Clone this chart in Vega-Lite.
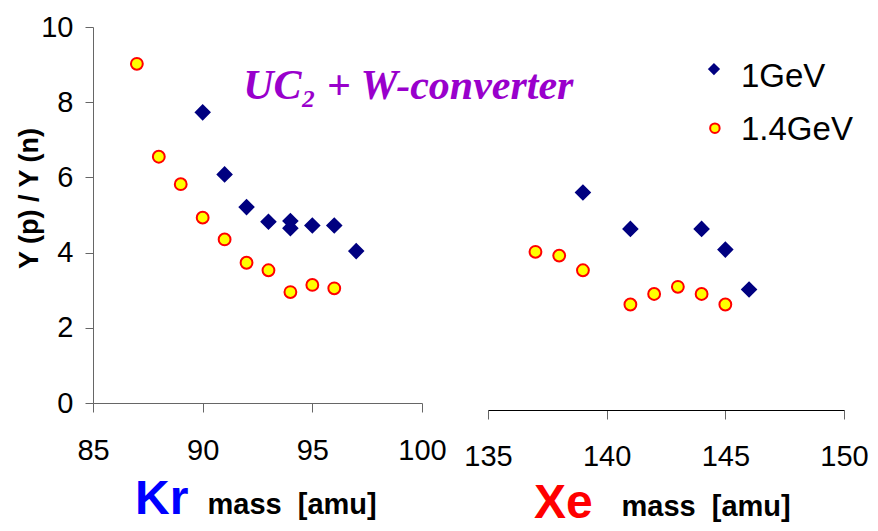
{
  "$schema": "https://vega.github.io/schema/vega-lite/v6.json",
  "autosize": {"type": "pad"},
  "padding": {"left": 15, "top": 13, "right": 5, "bottom": 5},
  "bounds": "flush",
  "spacing": 66,
  "background": "white",
  "config": {
    "view": {"stroke": null},
    "font": "Liberation Sans",
    "axis": {"grid": false, "labelFont": "Liberation Sans", "labelColor": "#000000", "labelFontSize": 29, "labelFlush": false, "labelOverlap": false, "titleFont": "Liberation Sans"}
  },
  "datasets": {
    "yields": [
      {"element": "Kr", "beam": "1.4GeV", "mass": 87, "ratio": 9.02},
      {"element": "Kr", "beam": "1.4GeV", "mass": 88, "ratio": 6.55},
      {"element": "Kr", "beam": "1.4GeV", "mass": 89, "ratio": 5.82},
      {"element": "Kr", "beam": "1.4GeV", "mass": 90, "ratio": 4.93},
      {"element": "Kr", "beam": "1.4GeV", "mass": 91, "ratio": 4.35},
      {"element": "Kr", "beam": "1.4GeV", "mass": 92, "ratio": 3.73},
      {"element": "Kr", "beam": "1.4GeV", "mass": 93, "ratio": 3.53},
      {"element": "Kr", "beam": "1.4GeV", "mass": 94, "ratio": 2.95},
      {"element": "Kr", "beam": "1.4GeV", "mass": 95, "ratio": 3.14},
      {"element": "Kr", "beam": "1.4GeV", "mass": 96, "ratio": 3.05},
      {"element": "Kr", "beam": "1GeV", "mass": 90, "ratio": 7.73},
      {"element": "Kr", "beam": "1GeV", "mass": 91, "ratio": 6.08},
      {"element": "Kr", "beam": "1GeV", "mass": 92, "ratio": 5.21},
      {"element": "Kr", "beam": "1GeV", "mass": 93, "ratio": 4.82},
      {"element": "Kr", "beam": "1GeV", "mass": 94, "ratio": 4.65},
      {"element": "Kr", "beam": "1GeV", "mass": 94, "ratio": 4.84},
      {"element": "Kr", "beam": "1GeV", "mass": 95, "ratio": 4.72},
      {"element": "Kr", "beam": "1GeV", "mass": 96, "ratio": 4.72},
      {"element": "Kr", "beam": "1GeV", "mass": 97, "ratio": 4.04},
      {"element": "Xe", "beam": "1.4GeV", "mass": 137, "ratio": 4.02},
      {"element": "Xe", "beam": "1.4GeV", "mass": 138, "ratio": 3.92},
      {"element": "Xe", "beam": "1.4GeV", "mass": 139, "ratio": 3.53},
      {"element": "Xe", "beam": "1.4GeV", "mass": 141, "ratio": 2.62},
      {"element": "Xe", "beam": "1.4GeV", "mass": 142, "ratio": 2.9},
      {"element": "Xe", "beam": "1.4GeV", "mass": 143, "ratio": 3.09},
      {"element": "Xe", "beam": "1.4GeV", "mass": 144, "ratio": 2.9},
      {"element": "Xe", "beam": "1.4GeV", "mass": 145, "ratio": 2.62},
      {"element": "Xe", "beam": "1GeV", "mass": 139, "ratio": 5.6},
      {"element": "Xe", "beam": "1GeV", "mass": 141, "ratio": 4.63},
      {"element": "Xe", "beam": "1GeV", "mass": 144, "ratio": 4.63},
      {"element": "Xe", "beam": "1GeV", "mass": 145, "ratio": 4.08},
      {"element": "Xe", "beam": "1GeV", "mass": 146, "ratio": 3.02}
    ]
  },
  "hconcat": [
    {
      "width": 329,
      "height": 376,
      "title": {"text": "Kr", "orient": "bottom", "anchor": "start", "frame": "group", "dx": 42, "offset": 0, "dy": -5, "baseline": "alphabetic", "color": "#0000FF", "font": "Liberation Sans", "fontSize": 48, "fontWeight": "bold"},
      "layer": [
        {
          "data": {"name": "yields"},
          "transform": [{"filter": "datum.element === 'Kr'"}],
          "mark": {"type": "point", "filled": true, "strokeWidth": 2, "opacity": 1},
          "encoding": {
            "x": {"field": "mass", "type": "quantitative",
              "scale": {"domain": [85, 100], "nice": false, "zero": false},
              "axis": {"values": [85, 90, 95, 100], "format": "d", "domainColor": "#666666", "tickColor": "#666666", "tickSize": 9, "labelPadding": 24,
                "title": "mass\u00a0\u00a0[amu]", "titleFontSize": 29, "titleFontWeight": "bold", "titleColor": "#000000", "titleX": 114, "titleY": 110, "titleAlign": "left", "titleBaseline": "alphabetic", "titleAnchor": null}},
            "y": {"field": "ratio", "type": "quantitative",
              "scale": {"domain": [0, 10], "nice": false},
              "axis": {"values": [0, 2, 4, 6, 8, 10], "format": "d", "domainColor": "#666666", "tickColor": "#666666", "tickSize": 8, "labelPadding": 12,
                "title": "Y (p) / Y (n)", "titleFontSize": 27, "titleFontWeight": "bold", "titleColor": "#000000", "titleAngle": -90, "titleX": -56, "titleY": 171, "titleAlign": "center", "titleBaseline": "alphabetic"}},
            "shape": {"field": "beam", "type": "nominal", "scale": {"domain": ["1GeV", "1.4GeV"], "range": ["diamond", "circle"]}, "legend": null},
            "color": {"field": "beam", "type": "nominal", "scale": {"domain": ["1GeV", "1.4GeV"], "range": ["#000080", "#FFFF00"]}, "legend": null},
            "stroke": {"field": "beam", "type": "nominal", "scale": {"domain": ["1GeV", "1.4GeV"], "range": ["#000080", "#FF0000"]}, "legend": null},
            "size": {"field": "beam", "type": "nominal", "scale": {"domain": ["1GeV", "1.4GeV"], "range": [190, 140]}, "legend": null}
          }
        },
        {
          "data": {"values": [{"label": "UC₂ + W-converter"}]},
          "mark": {"type": "text", "align": "left", "baseline": "alphabetic", "font": "Liberation Serif", "fontStyle": "italic", "fontWeight": "bold", "fontSize": 42, "color": "#9900CC", "clip": false},
          "encoding": {
            "x": {"datum": 91.85, "type": "quantitative"},
            "y": {"datum": 8.08, "type": "quantitative"},
            "text": {"field": "label", "type": "nominal"}
          }
        }
      ]
    },
    {
      "width": 356,
      "height": 376,
      "title": {"text": "Xe", "orient": "bottom", "anchor": "start", "frame": "group", "dx": 46, "offset": 0, "dy": -3, "baseline": "alphabetic", "color": "#FF0000", "font": "Liberation Sans", "fontSize": 48, "fontWeight": "bold"},
      "layer": [
        {
          "data": {"name": "yields"},
          "transform": [{"filter": "datum.element === 'Xe'"}],
          "mark": {"type": "point", "filled": true, "strokeWidth": 2, "opacity": 1},
          "encoding": {
            "x": {"field": "mass", "type": "quantitative",
              "scale": {"domain": [135, 150], "nice": false, "zero": false},
              "axis": {"values": [135, 140, 145, 150], "format": "d", "offset": 7, "domainColor": "#000000", "tickColor": "#666666", "tickSize": 9, "labelPadding": 23,
                "title": "mass\u00a0\u00a0[amu]", "titleFontSize": 29, "titleFontWeight": "bold", "titleColor": "#000000", "titleX": 133, "titleY": 105, "titleAlign": "left", "titleBaseline": "alphabetic", "titleAnchor": null}},
            "y": {"field": "ratio", "type": "quantitative", "scale": {"domain": [0, 10], "nice": false}, "axis": null},
            "shape": {"field": "beam", "type": "nominal", "scale": {"domain": ["1GeV", "1.4GeV"], "range": ["diamond", "circle"]}, "legend": null},
            "color": {"field": "beam", "type": "nominal", "scale": {"domain": ["1GeV", "1.4GeV"], "range": ["#000080", "#FFFF00"]}, "legend": null},
            "stroke": {"field": "beam", "type": "nominal", "scale": {"domain": ["1GeV", "1.4GeV"], "range": ["#000080", "#FF0000"]}, "legend": null},
            "size": {"field": "beam", "type": "nominal", "scale": {"domain": ["1GeV", "1.4GeV"], "range": [190, 140]}, "legend": null}
          }
        },
        {
          "data": {"values": [{"beam": "1GeV"}]},
          "mark": {"type": "point", "filled": true, "strokeWidth": 2, "opacity": 1, "size": 90, "clip": false},
          "encoding": {
            "x": {"datum": 144.52, "type": "quantitative"},
            "y": {"datum": 8.88, "type": "quantitative"},
            "shape": {"field": "beam", "type": "nominal", "legend": null},
            "color": {"field": "beam", "type": "nominal", "legend": null},
            "stroke": {"field": "beam", "type": "nominal", "legend": null}
          }
        },
        {
          "data": {"values": [{"beam": "1.4GeV"}]},
          "mark": {"type": "point", "filled": true, "strokeWidth": 2, "opacity": 1, "size": 90, "clip": false},
          "encoding": {
            "x": {"datum": 144.56, "type": "quantitative"},
            "y": {"datum": 7.31, "type": "quantitative"},
            "shape": {"field": "beam", "type": "nominal", "legend": null},
            "color": {"field": "beam", "type": "nominal", "legend": null},
            "stroke": {"field": "beam", "type": "nominal", "legend": null}
          }
        },
        {
          "data": {"values": [{"label": "1GeV"}]},
          "mark": {"type": "text", "align": "left", "baseline": "alphabetic", "font": "Liberation Sans", "fontSize": 33, "color": "#000000", "clip": false},
          "encoding": {
            "x": {"datum": 145.66, "type": "quantitative"},
            "y": {"datum": 8.4, "type": "quantitative"},
            "text": {"field": "label", "type": "nominal"}
          }
        },
        {
          "data": {"values": [{"label": "1.4GeV"}]},
          "mark": {"type": "text", "align": "left", "baseline": "alphabetic", "font": "Liberation Sans", "fontSize": 33, "color": "#000000", "clip": false},
          "encoding": {
            "x": {"datum": 145.66, "type": "quantitative"},
            "y": {"datum": 6.99, "type": "quantitative"},
            "text": {"field": "label", "type": "nominal"}
          }
        }
      ]
    }
  ]
}
